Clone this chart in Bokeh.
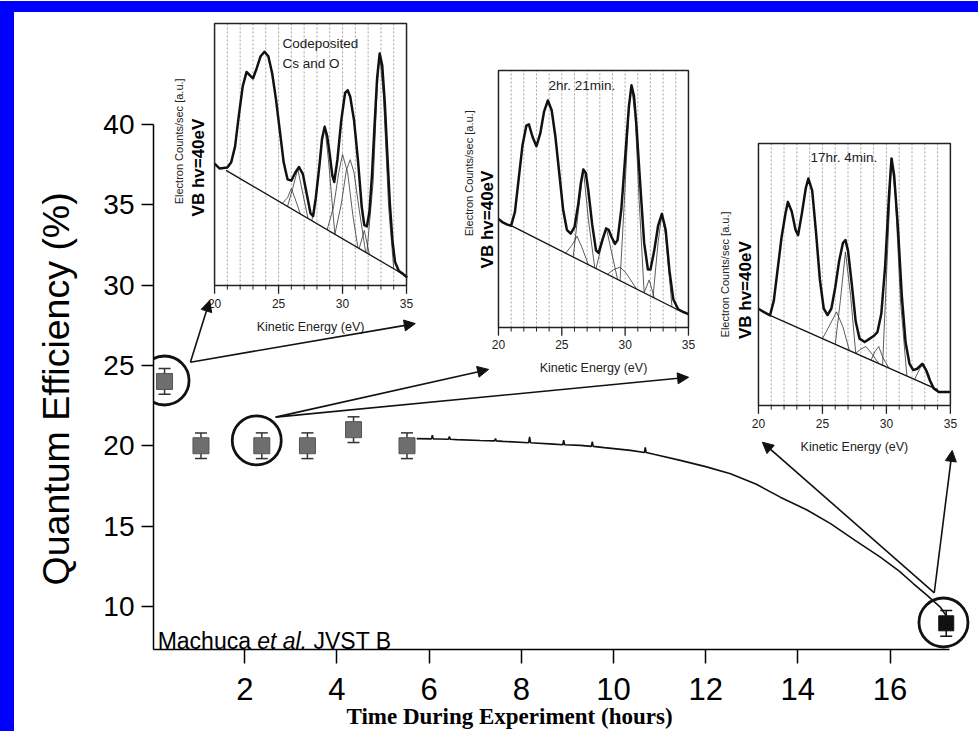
import math
from bokeh.plotting import figure
from bokeh.models import (Range1d, Arrow, NormalHead, Label, Whisker, ColumnDataSource, TeeHead, Title,
                          InlineStyleSheet)
from bokeh.embed import file_html
from bokeh.resources import INLINE
from bokeh.core.properties import value

# ---------------- main chart data ----------------
time_h = [0.26, 1.05, 2.37, 3.36, 4.36, 5.52]
qe_pct = [24.0, 20.0, 20.0, 20.0, 21.0, 20.0]
qe_err = [0.8, 0.8, 0.8, 0.8, 0.8, 0.8]
final_time = [17.22]
final_qe = [8.95]
final_err = [0.8]

curve_t = [5.73, 6.05, 6.07, 6.09, 6.2, 6.42, 6.44, 6.46, 6.6, 7.11, 7.42, 7.44, 7.46, 7.6, 8.16, 8.18,
           8.2, 8.7, 8.9, 8.92, 8.94, 9.28, 9.52, 9.54, 9.56, 9.8, 10.37, 10.67, 10.69, 10.71, 10.9,
           11.45, 12.0, 12.54, 13.1, 13.62, 14.2, 14.71, 15.25, 15.79, 16.2, 16.51, 16.8, 17.09, 17.25]
curve_qe = [20.44, 20.43, 20.65, 20.43, 20.42, 20.40, 20.58, 20.40, 20.38, 20.33, 20.30, 20.45, 20.30,
            20.27, 20.19, 20.55, 20.19, 20.1, 20.06, 20.35, 20.06, 20.02, 19.96, 20.25, 19.96, 19.88,
            19.71, 19.58, 19.9, 19.58, 19.45, 19.09, 18.7, 18.26, 17.6, 16.8, 16.0, 15.15, 14.1, 13.07,
            12.2, 11.41, 10.7, 9.96, 9.3]

x_ticks = [2, 4, 6, 8, 10, 12, 14, 16]
y_ticks = [10, 15, 20, 25, 30, 35, 40]

circle_t = [0.26, 2.26, 17.16]
circle_qe = [24.06, 20.33, 9.0]

arrow_t0 = [0.82, 0.82, 2.67, 2.67, 16.96, 16.96]
arrow_q0 = [25.2, 25.2, 21.78, 21.78, 10.85, 10.85]
arrow_t1 = [1.24, 5.70, 7.29, 11.63, 13.23, 17.35]
arrow_q1 = [29.04, 27.6, 24.75, 24.26, 20.22, 19.71]

# ---------------- inset spectra ----------------
inset_x_range = [20, 35]
inset_y_range = [0, 100]
inset_ticks = [20, 25, 30, 35]
inset_minor = [21, 22, 23, 24, 26, 27, 28, 29, 31, 32, 33, 34]
inset_grid = [21, 22, 23, 24, 25, 26, 27, 28, 29, 30, 31, 32, 33, 34]

spec1_x = [20.0, 20.4, 21.0, 21.3, 21.6, 21.9, 22.2, 22.5, 22.8, 23.0, 23.3, 23.6, 23.9, 24.2, 24.5,
           24.8, 25.1, 25.4, 25.7, 26.0, 26.3, 26.6, 26.9, 27.2, 27.5, 27.7, 27.9, 28.2, 28.4, 28.6,
           28.8, 29.0, 29.2, 29.35, 29.6, 29.9, 30.2, 30.4, 30.6, 30.9, 31.2, 31.5, 31.7, 31.9, 32.1,
           32.3, 32.5, 32.7, 32.9, 33.1, 33.3, 33.5, 33.7, 33.9, 34.1, 34.4, 34.7, 35.0]
spec1_y = [46.5, 44.6, 45.0, 47.0, 53.0, 65.0, 76.0, 81.5, 80.0, 79.0, 83.0, 87.5, 89.2, 87.5, 81.0,
           71.0, 59.0, 47.0, 40.5, 40.0, 43.0, 45.2, 42.5, 35.0, 27.5, 26.5, 33.0, 46.0, 56.0, 60.5,
           57.0, 50.0, 42.0, 39.5, 48.0, 63.0, 73.5, 74.5, 72.0, 63.0, 48.0, 30.0, 23.0, 22.5, 28.0,
           42.0, 61.0, 79.0, 88.5, 84.0, 70.0, 50.0, 31.0, 17.0, 9.0, 5.5, 4.5, 3.2]
base1_x = [20.9, 35.1]
base1_y = [43.9, 3.2]
comp1_x = [[25.3, 25.7, 26.0, 26.3, 26.7],
           [25.7, 26.1, 26.5, 26.9, 27.3],
           [27.6, 28.0, 28.3, 28.6, 28.9, 29.4],
           [28.8, 29.3, 29.7, 30.0, 30.4, 30.8, 31.2],
           [29.4, 29.9, 30.3, 30.6, 30.9, 31.3, 31.8],
           [31.3, 31.7, 32.1],
           [31.9, 32.4, 32.7, 32.9, 33.2, 33.6, 34.0]]
comp1_y = [[31.3, 33.5, 37.0, 33.0, 27.3],
           [30.1, 37.0, 44.5, 35.0, 25.6],
           [24.7, 36.0, 52.0, 61.1, 48.0, 19.5],
           [21.3, 30.0, 43.0, 50.0, 43.0, 27.0, 14.4],
           [19.5, 31.0, 44.0, 48.0, 43.0, 29.0, 12.7],
           [14.1, 21.0, 11.8],
           [12.4, 40.0, 75.0, 88.5, 72.0, 30.0, 6.4]]

spec2_x = [20.0, 20.3, 20.7, 21.0, 21.3, 21.6, 21.9, 22.2, 22.4, 22.7, 23.0, 23.3, 23.6, 23.9, 24.2,
           24.5, 24.8, 25.1, 25.4, 25.7, 26.0, 26.3, 26.5, 26.7, 26.9, 27.1, 27.4, 27.7, 27.9, 28.2,
           28.5, 28.7, 28.9, 29.2, 29.4, 29.7, 30.0, 30.3, 30.5, 30.7, 30.9, 31.2, 31.5, 31.8, 32.0,
           32.3, 32.6, 32.9, 33.2, 33.5, 33.8, 34.2, 34.6, 35.0]
spec2_y = [42.2, 41.0, 40.0, 39.6, 45.0, 58.0, 71.0, 78.5, 79.0, 74.0, 70.5, 75.5, 84.0, 88.3, 84.5,
           74.0, 60.0, 46.0, 38.0, 36.5, 39.0, 48.0, 56.0, 61.5, 60.0, 53.0, 40.0, 30.0, 29.0, 34.0,
           38.5, 38.0, 35.5, 32.5, 34.0, 46.0, 66.0, 86.0, 94.2, 90.0, 78.0, 55.0, 33.0, 22.5, 22.5,
           30.0, 39.5, 44.2, 38.0, 22.0, 11.0, 7.0, 6.0, 5.2]
base2_x = [21.0, 34.3]
base2_y = [39.6, 6.5]
comp2_x = [[25.3, 25.8, 26.2, 26.6, 27.1],
           [25.9, 26.3, 26.7, 27.1, 27.6],
           [27.7, 28.1, 28.5, 28.9, 29.4],
           [28.6, 29.1, 29.6, 30.1, 30.9],
           [29.6, 30.0, 30.3, 30.5, 30.8, 31.1, 31.5],
           [31.5, 31.9, 32.3],
           [32.2, 32.6, 32.9, 33.2, 33.7]]
comp2_y = [[28.9, 32.0, 35.5, 31.0, 24.4],
           [27.4, 45.0, 61.7, 42.0, 23.2],
           [22.9, 31.0, 39.0, 30.0, 18.7],
           [20.7, 22.5, 23.5, 21.0, 15.0],
           [18.2, 55.0, 85.0, 94.2, 82.0, 50.0, 13.5],
           [13.5, 18.5, 11.5],
           [11.7, 33.0, 44.2, 36.0, 8.0]]

spec3_x = [20.0, 20.4, 20.9, 21.2, 21.5, 21.8, 22.1, 22.3, 22.6, 22.9, 23.1, 23.4, 23.7, 23.9, 24.2,
           24.5, 24.8, 25.1, 25.4, 25.7, 26.0, 26.3, 26.6, 26.8, 27.0, 27.3, 27.6, 27.9, 28.3, 28.7,
           29.0, 29.3, 29.6, 29.9, 30.2, 30.4, 30.6, 30.9, 31.2, 31.5, 31.8, 32.1, 32.4, 32.8, 33.1,
           33.4, 33.7, 34.1, 35.0]
spec3_y = [36.9, 35.7, 34.4, 40.0, 52.0, 64.0, 73.0, 77.7, 74.0, 67.0, 65.0, 73.5, 83.0, 86.6, 82.0,
           66.0, 48.0, 37.0, 34.5, 37.0, 45.0, 55.0, 62.0, 63.1, 59.0, 46.0, 32.0, 25.5, 24.2, 25.5,
           26.5, 28.0, 35.0, 53.0, 80.0, 94.3, 88.0, 68.0, 42.0, 24.0, 16.0, 13.5, 14.0, 15.9, 13.5,
           9.5, 6.5, 5.1, 5.1]
base3_x = [20.9, 34.0]
base3_y = [34.4, 6.0]
comp3_x = [[25.0, 25.5, 26.1, 26.6, 27.1],
           [26.0, 26.4, 26.8, 27.2, 27.6],
           [27.6, 28.0, 28.4, 28.9, 29.4],
           [28.8, 29.1, 29.4, 29.7, 30.2],
           [29.7, 30.1, 30.4, 30.7, 31.1, 31.6],
           [32.2, 32.6, 32.9, 33.3, 33.6]]
comp3_y = [[25.5, 30.0, 35.7, 30.0, 21.0],
           [23.3, 40.0, 58.6, 42.0, 19.9],
           [19.9, 21.5, 22.5, 19.5, 16.0],
           [17.3, 20.5, 22.5, 18.5, 14.2],
           [15.3, 60.0, 94.3, 80.0, 40.0, 11.2],
           [9.9, 14.0, 16.0, 12.0, 6.9]]

insets = [
    dict(sx=spec1_x, sy=spec1_y, bx=base1_x, by=base1_y, cx=comp1_x, cy=comp1_y,
         target_x=[1.345, 5.51], target_y=[29.975, 46.279],
         note=["Codeposited", "Cs and O"], note_x=25.3, note_y=[92.4, 84.7],
         elec_x=17.2, elec_y=55, vb_x=18.75, vb_y=45),
    dict(sx=spec2_x, sy=spec2_y, bx=base2_x, by=base2_y, cx=comp2_x, cy=comp2_y,
         target_x=[7.505, 11.627], target_y=[27.361, 43.354],
         note=["2hr. 21min."], note_x=23.95, note_y=[94.2],
         elec_x=17.7, elec_y=60, vb_x=19.1, vb_y=42),
    dict(sx=spec3_x, sy=spec3_y, bx=base3_x, by=base3_y, cx=comp3_x, cy=comp3_y,
         target_x=[13.146, 17.31], target_y=[22.508, 38.811],
         note=["17hr. 4min."], note_x=24.06, note_y=[94.7],
         elec_x=17.4, elec_y=50, vb_x=18.98, vb_y=44),
]

SANS = "Liberation Sans"
BLUE = "#0000fe"

p = figure(width=978, height=731, output_backend="svg", toolbar_location=None,
           x_range=Range1d(0.02, 17.92), y_range=Range1d(7.32, 46.96),
           min_border_left=153, min_border_right=0, min_border_top=12, min_border_bottom=82)
p.outline_line_color = None
p.grid.visible = False
p.background_fill_color = "white"
p.border_fill_color = "white"
# page border: blue band on the left and on top, painted over the plot canvas
p.stylesheets = [InlineStyleSheet(css="""
:host { position: relative; }
:host::before { content: ""; position: absolute; left: 0; top: 1px; width: 14px; height: 730px;
                background: %s; z-index: 100; pointer-events: none; }
:host::after { content: ""; position: absolute; left: 0; top: 1px; width: 978px; height: 11px;
               background: %s; z-index: 100; pointer-events: none; }
""" % (BLUE, BLUE))]

xa = p.xaxis[0]
xa.ticker = x_ticks
xa.bounds = (0.02, 17.3)
xa.major_tick_out = 14
xa.major_tick_in = 0
xa.minor_tick_out = 0
xa.minor_tick_in = 0
xa.axis_line_width = 1.5
xa.major_tick_line_width = 1.5
xa.major_label_text_font = SANS
xa.major_label_text_font_size = "31px"
xa.major_label_text_color = "black"
xa.major_label_standoff = 14

ya = p.yaxis[0]
ya.ticker = y_ticks
ya.bounds = (7.32, 40)
ya.major_tick_out = 12
ya.major_tick_in = 0
ya.minor_tick_out = 0
ya.minor_tick_in = 0
ya.axis_line_width = 1.5
ya.major_tick_line_width = 1.5
ya.major_label_text_font = SANS
ya.major_label_text_font_size = "28px"
ya.major_label_text_color = "black"
ya.major_label_standoff = 7

p.add_layout(Title(text="Quantum Efficiency (%)", align="left", offset=64, vertical_align="middle",
                   standoff=46, text_font=SANS, text_font_style="normal", text_font_size="37.5px",
                   text_color="black"), "left")
p.add_layout(Title(text="Time During Experiment (hours)", align="left", offset=193, vertical_align="top",
                   standoff=2, text_font="Liberation Serif", text_font_style="bold", text_font_size="23px",
                   text_color="black"), "below")

cite_x, cite_y = 0.11, 7.88
for txt, off, style in [("Machuca", 0, "normal"), ("et al,", 99.5, "italic"), ("JVST B", 155.8, "normal")]:
    p.add_layout(Label(x=cite_x, y=cite_y, x_offset=off, text=txt, text_font=SANS, text_font_style=style,
                       text_font_size="23px", text_color="black", text_baseline="alphabetic"))

for ins in insets:
    sub = p.subplot(x_source=Range1d(*inset_x_range), y_source=Range1d(*inset_y_range),
                    x_target=Range1d(*ins["target_x"]), y_target=Range1d(*ins["target_y"]))
    sub.quad(left=[inset_x_range[0]], right=[inset_x_range[1]], bottom=[inset_y_range[0]],
             top=[inset_y_range[1]], fill_color="white", line_color=None)
    sub.segment(x0=inset_grid, y0=[inset_y_range[0]] * len(inset_grid), x1=inset_grid,
                y1=[inset_y_range[1]] * len(inset_grid), line_color="#9a9a9a", line_width=0.9,
                line_dash="2 2")
    sub.multi_line(xs=ins["cx"], ys=ins["cy"], line_color="#333333", line_width=0.8)
    sub.line(ins["bx"], ins["by"], line_color="#111111", line_width=1.3)
    sub.line(ins["sx"], ins["sy"], line_color="#111111", line_width=2.5, line_join="round")
    sub.quad(left=[inset_x_range[0]], right=[inset_x_range[1]], bottom=[inset_y_range[0]],
             top=[inset_y_range[1]], fill_color=None, line_color="#222222", line_width=1.5)
    sub.segment(x0=inset_ticks, y0=[0] * 4, x1=inset_ticks, y1=[-3.2] * 4, line_color="#222222", line_width=1.3)
    sub.segment(x0=inset_minor, y0=[0] * len(inset_minor), x1=inset_minor, y1=[-1.6] * len(inset_minor),
                line_color="#222222", line_width=1)
    sub.text(x=inset_ticks, y=[-6.8] * 4, text=[str(t) for t in inset_ticks], text_align="center",
             text_baseline="middle", text_font=value(SANS), text_font_size="12px", text_color="#222222")
    sub.text(x=[27.5], y=[-15.8], text=["Kinetic Energy (eV)"], text_align="center",
             text_baseline="middle", text_font=value(SANS), text_font_size="12.5px", text_color="#222222")
    sub.text(x=[ins["elec_x"]], y=[ins["elec_y"]], text=["Electron Counts/sec [a.u.]"], angle=math.pi / 2,
             text_align="center", text_baseline="middle", text_font=value(SANS), text_font_size="11px",
             text_color="#222222")
    sub.text(x=[ins["vb_x"]], y=[ins["vb_y"]], text=["VB hv=40eV"], angle=math.pi / 2,
             text_align="center", text_baseline="middle", text_font=value(SANS), text_font_style="bold",
             text_font_size="17px", text_color="black")
    sub.text(x=[ins["note_x"]] * len(ins["note"]), y=ins["note_y"], text=ins["note"], text_align="left",
             text_baseline="middle", text_font=value(SANS), text_font_size="13.5px", text_color="#222222")

p.line(curve_t, curve_qe, line_color="#111111", line_width=1.6)

src = ColumnDataSource(dict(t=time_h, lo=[q - e for q, e in zip(qe_pct, qe_err)],
                            hi=[q + e for q, e in zip(qe_pct, qe_err)]))
p.add_layout(Whisker(source=src, base="t", upper="hi", lower="lo", dimension="height",
                     line_color="#333333", line_width=1.5,
                     upper_head=TeeHead(size=12, line_color="#333333", line_width=1.5),
                     lower_head=TeeHead(size=12, line_color="#333333", line_width=1.5)))
src2 = ColumnDataSource(dict(t=final_time, lo=[q - e for q, e in zip(final_qe, final_err)],
                             hi=[q + e for q, e in zip(final_qe, final_err)]))
p.add_layout(Whisker(source=src2, base="t", upper="hi", lower="lo", dimension="height",
                     line_color="#111111", line_width=1.5,
                     upper_head=TeeHead(size=12, line_color="#111111", line_width=1.5),
                     lower_head=TeeHead(size=12, line_color="#111111", line_width=1.5)))
p.scatter(time_h, qe_pct, marker="square", size=16, fill_color="#6e6e6e", line_color="#555555", line_width=1)
p.scatter(final_time, final_qe, marker="square", size=15, fill_color="#111111", line_color="#111111")

p.scatter(circle_t, circle_qe, marker="circle", size=49, fill_color=None, line_color="#111111", line_width=2.8)

for t0, q0, t1, q1 in zip(arrow_t0, arrow_q0, arrow_t1, arrow_q1):
    p.add_layout(Arrow(end=NormalHead(size=11, fill_color="#111111", line_color="#111111", line_width=1),
                       x_start=t0, y_start=q0, x_end=t1, y_end=q1, line_color="#111111", line_width=1.6))

open("out.html", "w").write(file_html(p, INLINE))
